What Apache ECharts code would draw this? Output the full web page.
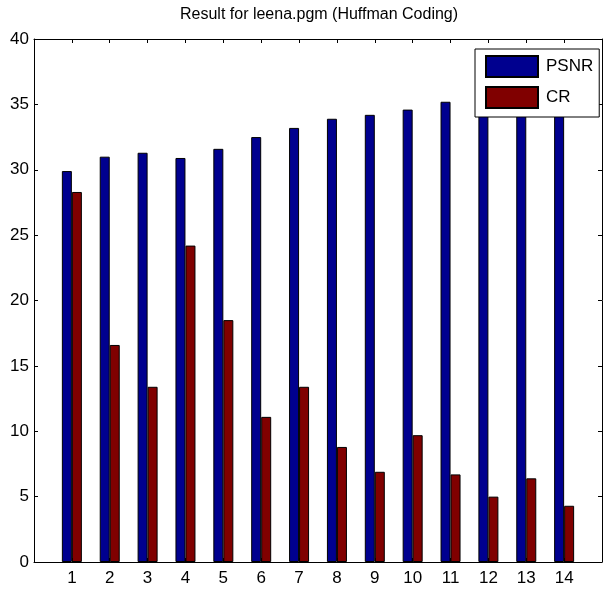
<!DOCTYPE html>
<html>
<head>
<meta charset="utf-8">
<script src="https://cdn.jsdelivr.net/npm/echarts@6/dist/echarts.min.js"></script>
<style>
html,body{margin:0;padding:0;background:#fff;}
#chart{width:605px;height:589px;}
</style>
</head>
<body>
<div id="chart"></div>
<script>
var categories = ['1','2','3','4','5','6','7','8','9','10','11','12','13','14'];
var psnr = [29.9, 31.0, 31.3, 30.9, 31.6, 32.5, 33.2, 33.9, 34.2, 34.6, 35.2, 35.5, 35.9, 36.3];
var cr = [28.3, 16.6, 13.4, 24.2, 18.5, 11.1, 13.4, 8.8, 6.9, 9.7, 6.7, 5.0, 6.4, 4.3];
var yTicks = [0, 5, 10, 15, 20, 25, 30, 35, 40];
var titleText = 'Result for leena.pgm (Huffman Coding)';

var font = 'Liberation Sans, Arial, sans-serif';
var chart = echarts.init(document.getElementById('chart'), null, {renderer: 'canvas'});

function pairs(vals) {
  return vals.map(function (v, i) { return [i + 1, v]; });
}

var option = {
  animation: false,
  backgroundColor: '#ffffff',
  title: {
    text: titleText,
    left: 175,
    top: 2,
    textStyle: {fontFamily: font, fontSize: 16, fontWeight: 'normal', color: '#000'}
  },
  legend: {
    orient: 'vertical',
    left: 475,
    top: 49,
    icon: 'rect',
    itemWidth: 52,
    itemHeight: 21,
    itemGap: 8,
    padding: [6, 6, 8, 10],
    backgroundColor: '#fff',
    borderColor: '#000',
    borderWidth: 1,
    borderRadius: 0,
    textStyle: {fontFamily: font, fontSize: 17, color: '#000', padding: [0, 0, 0, 3]},
    data: ['PSNR', 'CR']
  },
  grid: {left: 34, top: 39, width: 573, height: 523, containLabel: false},
  xAxis: [{
    type: 'value',
    position: 'bottom',
    min: 0, max: 15, interval: 1,
    axisLine: {lineStyle: {color: '#000', width: 1}},
    axisTick: {show: true, inside: true, length: 4, lineStyle: {color: '#000'}},
    axisLabel: {
      fontFamily: font, fontSize: 17, color: '#000', margin: 8,
      showMinLabel: true, showMaxLabel: true,
      formatter: function (v) { return (v >= 1 && v <= categories.length) ? categories[v - 1] : ''; }
    },
    splitLine: {show: false}
  }, {
    type: 'value',
    position: 'top',
    min: 0, max: 15, interval: 1,
    axisLine: {onZero: false, lineStyle: {color: '#000', width: 1}},
    axisTick: {show: true, inside: true, length: 4, lineStyle: {color: '#000'}},
    axisLabel: {show: false},
    splitLine: {show: false}
  }],
  yAxis: [{
    type: 'value',
    position: 'left',
    min: yTicks[0], max: yTicks[yTicks.length - 1], interval: 5,
    axisLine: {show: true, lineStyle: {color: '#000', width: 1}},
    axisTick: {show: true, inside: true, length: 4, lineStyle: {color: '#000'}},
    axisLabel: {fontFamily: font, fontSize: 17, color: '#000', margin: 5},
    splitLine: {show: false}
  }, {
    type: 'value',
    position: 'right',
    min: yTicks[0], max: yTicks[yTicks.length - 1], interval: 5,
    axisLine: {show: true, onZero: false, lineStyle: {color: '#000', width: 1}},
    axisTick: {show: true, inside: true, length: 4, lineStyle: {color: '#000'}},
    axisLabel: {show: false},
    splitLine: {show: false}
  }],
  series: [{
    name: 'PSNR',
    type: 'bar',
    xAxisIndex: 0, yAxisIndex: 0,
    barWidth: 10,
    barGap: '0%',
    itemStyle: {color: '#00008F', borderColor: '#000', borderWidth: 1},
    data: pairs(psnr)
  }, {
    name: 'CR',
    type: 'bar',
    xAxisIndex: 0, yAxisIndex: 0,
    barWidth: 10,
    barGap: '0%',
    itemStyle: {color: '#800000', borderColor: '#000', borderWidth: 1},
    data: pairs(cr)
  }]
};
chart.setOption(option);
</script>
</body>
</html>
